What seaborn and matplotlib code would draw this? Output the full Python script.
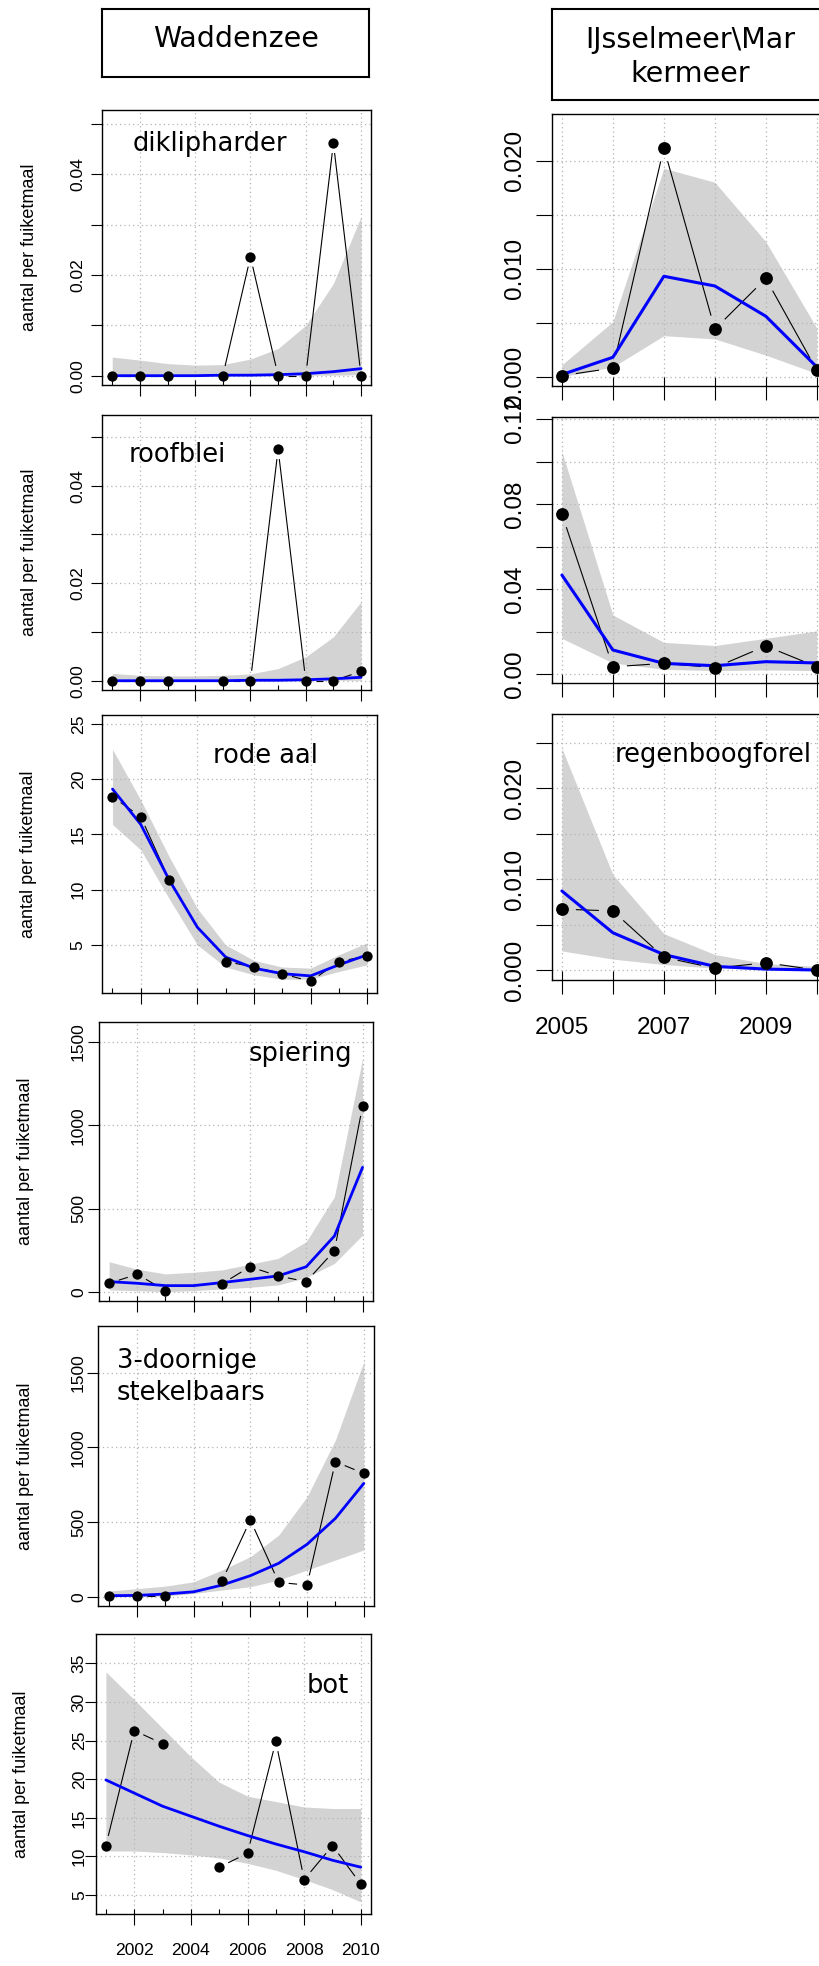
import numpy as np
import pandas as pd
import seaborn as sns
import matplotlib
matplotlib.use("Agg")
import matplotlib.pyplot as plt
from matplotlib.collections import LineCollection

# --- data ---
years_wad = [2001, 2002, 2003, 2004, 2005, 2006, 2007, 2008, 2009, 2010]
years_ijs = [2005, 2006, 2007, 2008, 2009, 2010]
nan = np.nan

# Waddenzee (2004 has no observation)
dikli_obs = [0, 0, 0, nan, 0, 0.0236, 0, 0, 0.0462, 0]
dikli_fit = [0.0, 0.0, 0.0, 0.0, 0.0001, 0.0001, 0.0002, 0.0004, 0.0008, 0.0014]
dikli_lo = [0.0, 0.0, 0.0, 0.0, 0.0, 0.0, 0.0, 0.0001, 0.0001, 0.0002]
dikli_hi = [0.0037, 0.0031, 0.0024, 0.0021, 0.0022, 0.0033, 0.0054, 0.0100, 0.0183, 0.0316]

roof_obs = [0, 0, 0, nan, 0, 0, 0.0475, 0, 0, 0.0019]
roof_fit = [0.0, 0.0, 0.0, 0.0, 0.0, 0.0001, 0.0001, 0.0002, 0.0004, 0.0007]
roof_lo = [0.0, 0.0, 0.0, 0.0, 0.0, 0.0, 0.0, 0.0, 0.0001, 0.0001]
roof_hi = [0.0015, 0.0011, 0.0010, 0.0010, 0.0011, 0.0014, 0.0025, 0.0049, 0.0090, 0.0162]

aal_obs = [18.4, 16.6, 10.9, nan, 3.5, 3.0, 2.4, 1.7, 3.5, 4.0]
aal_fit = [19.1, 15.9, 10.9, 6.6, 3.9, 2.9, 2.4, 2.2, 3.2, 4.1]
aal_lo = [15.9, 13.6, 9.2, 5.0, 3.0, 2.3, 1.9, 1.9, 2.6, 3.2]
aal_hi = [22.7, 18.1, 13.0, 8.3, 5.0, 3.6, 3.0, 2.9, 4.1, 5.2]

spier_obs = [54, 108, 10, nan, 50, 153, 98, 64, 249, 1115]
spier_fit = [64, 54, 40, 40, 58, 78, 98, 153, 337, 748]
spier_lo = [14, 10, 4, 10, 20, 30, 44, 88, 173, 343]
spier_hi = [183, 138, 110, 120, 134, 168, 203, 303, 572, 1400]

stek_obs = [7, 4, 4, nan, 105, 514, 96, 78, 904, 826]
stek_fit = [7, 9, 18, 33, 78, 141, 224, 351, 525, 759]
stek_lo = [0, 0, 4, 22, 45, 67, 112, 179, 246, 313]
stek_hi = [38, 54, 71, 100, 179, 268, 413, 670, 1049, 1574]

bot_obs = [11.4, 26.3, 24.6, nan, 8.6, 10.4, 24.9, 7.0, 11.4, 6.4]
bot_fit = [19.9, 18.2, 16.5, 15.2, 13.9, 12.7, 11.6, 10.6, 9.5, 8.6]
bot_lo = [10.7, 10.7, 10.5, 10.2, 9.8, 9.1, 8.2, 7.0, 5.7, 4.1]
bot_hi = [33.9, 30.3, 26.6, 22.9, 19.6, 17.8, 17.1, 16.4, 16.2, 16.2]

# IJsselmeer\Markermeer
ij1_obs = [0.0001, 0.0008, 0.0212, 0.0044, 0.0091, 0.0006]
ij1_fit = [0.0002, 0.0018, 0.0093, 0.0084, 0.0056, 0.0009]
ij1_lo = [0.0000, 0.0009, 0.0038, 0.0035, 0.0020, 0.0003]
ij1_hi = [0.0011, 0.0051, 0.0193, 0.0180, 0.0125, 0.0045]

ij2_obs = [0.0754, 0.0034, 0.0050, 0.0030, 0.0132, 0.0034]
ij2_fit = [0.0466, 0.0113, 0.0050, 0.0039, 0.0058, 0.0052]
ij2_lo = [0.0168, 0.0052, 0.0022, 0.0016, 0.0019, 0.0016]
ij2_hi = [0.1047, 0.0278, 0.0149, 0.0134, 0.0168, 0.0203]

regen_obs = [0.0067, 0.0065, 0.0014, 0.0002, 0.0008, 0.0000]
regen_fit = [0.0087, 0.0041, 0.0017, 0.0004, 0.0001, 0.0000]
regen_lo = [0.0021, 0.0012, 0.0006, 0.0002, 0.0001, 0.0000]
regen_hi = [0.0244, 0.0105, 0.0040, 0.0017, 0.0007, 0.0004]

ylabel = "aantal per fuiketmaal"
W, H = 819, 1966

sns.set_theme(style="white")
plt.rcParams["font.family"] = ["Liberation Sans", "DejaVu Sans"]
plt.rcParams["axes.linewidth"] = 1.0
plt.rcParams["text.color"] = "black"

fig = plt.figure(figsize=(W / 100, H / 100), dpi=100)


def px_axes(x0, x1, y0, y1):
    return fig.add_axes([x0 / W, 1 - y1 / H, (x1 - x0) / W, (y1 - y0) / H])


def ftext(x, y, s, **kw):
    fig.text(x / W, 1 - y / H, s, family="DejaVu Sans", color="black", **kw)


def type_b_lines(ax, x, y, gap):
    # R style type="b": segments between points, with a gap around each point
    pts = ax.transData.transform(np.column_stack([x, y]))
    inv = ax.transData.inverted()
    segs = []
    for i in range(len(x) - 1):
        p0, p1 = pts[i], pts[i + 1]
        if np.isnan(p0).any() or np.isnan(p1).any():
            continue
        d = p1 - p0
        L = np.hypot(*d)
        if L <= 2 * gap:
            continue
        u = d / L
        segs.append(inv.transform([p0 + u * gap, p1 - u * gap]))
    ax.add_collection(LineCollection(segs, colors="black", linewidths=0.8, zorder=3))


def panel(box, years, obs, fit, lo, hi, ylim, yticks, ylabs, side,
          ylab_x=None, ytick_pad=4, xlabels=False):
    ax = px_axes(*box)
    ax.set_axisbelow("line")
    ax.fill_between(years, lo, hi, color="#d3d3d3", lw=0, zorder=1)
    sns.lineplot(x=years, y=fit, ax=ax, color="blue",
                 lw=2.0 if side == "L" else 2.2, zorder=4)
    sns.scatterplot(x=years, y=obs, ax=ax, color="black", linewidth=0,
                    s=55 if side == "L" else 85, zorder=5, legend=False)
    if side == "L":
        ax.set_xlim(2000.64, 2010.36)
        ax.set_xticks([2002, 2004, 2006, 2008, 2010])
        ax.set_xticks(years, minor=True)
        ax.tick_params(axis="x", which="major", direction="out", length=8.1, width=0.8)
        ax.tick_params(axis="x", which="minor", direction="in", length=3.8, width=0.8)
        ax.tick_params(axis="y", which="major", direction="out", length=7.9, width=0.8,
                       labelsize=12.6, labelrotation=90, pad=ytick_pad)
        ax.tick_params(axis="x", labelsize=12.6, pad=12.5)
        gap = 10
    else:
        ax.set_xlim(2004.8, 2010.2)
        ax.set_xticks(years)
        ax.set_xticks(years, minor=True)
        ax.tick_params(axis="x", which="major", direction="out", length=10.4, width=0.8)
        ax.tick_params(axis="x", which="minor", direction="in", length=6.5, width=0.8)
        ax.tick_params(axis="y", which="major", direction="out", length=11.3, width=0.8,
                       labelsize=17.5, labelrotation=90, pad=ytick_pad)
        ax.tick_params(axis="x", labelsize=17.5, pad=16)
        gap = 14
    ax.xaxis.remove_overlapping_locs = False
    ax.tick_params(which="both", bottom=True, left=True, colors="black", labelcolor="black")
    if xlabels is False:
        ax.set_xticklabels([])
    else:
        ax.set_xticklabels(xlabels)
    ax.set_yticks(yticks, labels=ylabs)
    for lab in ax.get_yticklabels():
        lab.set_verticalalignment("center")
    ax.set_ylim(*ylim)
    ax.grid(True, which="major", color="#b4b4b4", linestyle=(0, (1, 2.5)), lw=0.9)
    for sp in ax.spines.values():
        sp.set_color("black")
        sp.set_linewidth(1.0)
    if ylab_x is not None:
        ax.set_ylabel(ylabel, fontsize=13, color="black")
        ax.yaxis.set_label_coords((ylab_x - box[0]) / (box[1] - box[0]), 0.5)
    else:
        ax.set_ylabel("")
    type_b_lines(ax, years, obs, gap)
    return ax


yt_small = [0, 0.01, 0.02, 0.03, 0.04, 0.05]
yl_small = ["0.00", "", "0.02", "", "0.04", ""]

panel((102.3, 371, 110, 385), years_wad, dikli_obs, dikli_fit, dikli_lo, dikli_hi,
      (-0.00185, 0.05277), yt_small, yl_small, "L", ylab_x=38.5, ytick_pad=4)
panel((102.3, 371, 415, 690), years_wad, roof_obs, roof_fit, roof_lo, roof_hi,
      (-0.0019, 0.0545), yt_small, yl_small, "L", ylab_x=38.5, ytick_pad=4)
panel((102.3, 377.3, 715, 992.7), years_wad, aal_obs, aal_fit, aal_lo, aal_hi,
      (0.68, 25.8), [5, 10, 15, 20, 25], ["5", "10", "15", "20", "25"], "L",
      ylab_x=37, ytick_pad=4)
panel((99, 372.7, 1021.7, 1301), years_wad, spier_obs, spier_fit, spier_lo, spier_hi,
      (-52, 1620), [0, 500, 1000, 1500], ["0", "500", "1000", "1500"], "L",
      ylab_x=33.5, ytick_pad=1.5)
panel((98.3, 374, 1326, 1606), years_wad, stek_obs, stek_fit, stek_lo, stek_hi,
      (-62, 1813), [0, 500, 1000, 1500], ["0", "500", "1000", "1500"], "L",
      ylab_x=33.5, ytick_pad=1)
panel((95.7, 371, 1634.3, 1914.3), years_wad, bot_obs, bot_fit, bot_lo, bot_hi,
      (2.5, 38.76), [5, 10, 15, 20, 25, 30, 35],
      ["5", "10", "15", "20", "25", "30", "35"], "L",
      ylab_x=30, ytick_pad=-1.5, xlabels=["2002", "2004", "2006", "2008", "2010"])

panel((551.7, 827, 114, 385.7), years_ijs, ij1_obs, ij1_fit, ij1_lo, ij1_hi,
      (-0.00083, 0.02432), [0, 0.005, 0.01, 0.015, 0.02],
      ["0.000", "", "0.010", "", "0.020"], "R", ytick_pad=7.3)
panel((551.7, 827, 417.3, 682.7), years_ijs, ij2_obs, ij2_fit, ij2_lo, ij2_hi,
      (-0.0041, 0.1209), [0, 0.02, 0.04, 0.06, 0.08, 0.10, 0.12],
      ["0.00", "", "0.04", "", "0.08", "", "0.12"], "R", ytick_pad=7.3)
panel((551.7, 827, 714, 980), years_ijs, regen_obs, regen_fit, regen_lo, regen_hi,
      (-0.0011, 0.02818), [0, 0.005, 0.01, 0.015, 0.02, 0.025],
      ["0.000", "", "0.010", "", "0.020", ""], "R", ytick_pad=7.3,
      xlabels=["2005", "", "2007", "", "2009", ""])

# column header boxes
for box in [(102.3, 369.3, 9, 77), (551.7, 828, 9, 100)]:
    tax = px_axes(*box)
    tax.set_xticks([])
    tax.set_yticks([])
    for sp in tax.spines.values():
        sp.set_color("black")
        sp.set_linewidth(1.5)

ftext(235.7, 47.3, "Waddenzee", fontsize=20.5, ha="center", va="baseline")
ftext(690, 48.3, "IJsselmeer\\Mar", fontsize=20.5, ha="center", va="baseline")
ftext(690, 81.7, "kermeer", fontsize=20.5, ha="center", va="baseline")

# species names inside the panels
ftext(132.3, 150.7, "diklipharder", fontsize=18.5, va="baseline")
ftext(128.3, 461.7, "roofblei", fontsize=18.5, va="baseline")
ftext(213.3, 762.7, "rode aal", fontsize=18.5, va="baseline")
ftext(248.3, 1060.7, "spiering", fontsize=18.5, va="baseline")
ftext(116.7, 1368.3, "3-doornige", fontsize=18.5, va="baseline")
ftext(116.7, 1400, "stekelbaars", fontsize=18.5, va="baseline")
ftext(306.7, 1692.7, "bot", fontsize=18.5, va="baseline")
ftext(615, 761.7, "regenboogforel", fontsize=18.5, va="baseline")

fig.savefig("out.png", dpi=100, facecolor="white")
